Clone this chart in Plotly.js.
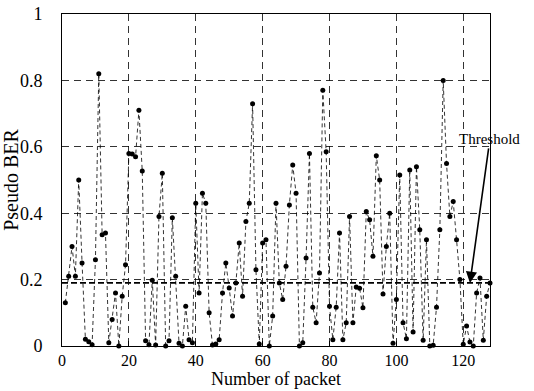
<!DOCTYPE html>
<html>
<head>
<meta charset="utf-8">
<script src="https://cdn.plot.ly/plotly-3.0.1.min.js"></script>
<style>html,body{margin:0;padding:0;background:#fff;}#chart{width:534px;height:391px;}</style>
</head>
<body>
<div id="chart"></div>
<script>
// Packet indices 1..128
const packets = [];
for (let i = 1; i <= 128; i++) packets.push(i);

// Pseudo BER per packet
const pseudoBER = [
  0.13, 0.21, 0.30, 0.21, 0.50, 0.25, 0.02, 0.013, 0.004, 0.26,
  0.82, 0.335, 0.34, 0.01, 0.08, 0.16, 0.0, 0.15, 0.245, 0.58,
  0.578, 0.57, 0.71, 0.527, 0.016, 0.004, 0.198, 0.003, 0.39, 0.52,
  0.0, 0.016, 0.386, 0.21, 0.008, 0.0, 0.12, 0.019, 0.01, 0.43,
  0.16, 0.46, 0.43, 0.10, 0.003, 0.006, 0.019, 0.16, 0.25, 0.175,
  0.09, 0.19, 0.31, 0.15, 0.375, 0.43, 0.73, 0.23, 0.006, 0.31,
  0.32, 0.0, 0.09, 0.43, 0.19, 0.14, 0.24, 0.425, 0.545, 0.46,
  0.0, 0.01, 0.265, 0.58, 0.117, 0.07, 0.22, 0.77, 0.585, 0.12,
  0.019, 0.117, 0.34, 0.019, 0.07, 0.39, 0.07, 0.178, 0.174, 0.115,
  0.405, 0.38, 0.27, 0.573, 0.50, 0.157, 0.30, 0.40, 0.008, 0.14,
  0.515, 0.07, 0.022, 0.53, 0.042, 0.54, 0.35, 0.017, 0.32, 0.0,
  0.002, 0.117, 0.35, 0.80, 0.55, 0.39, 0.435, 0.32, 0.20, 0.005,
  0.06, 0.012, 0.0, 0.16, 0.205, 0.017, 0.15, 0.19
];

const thresholdValue = 0.19;
const thresholdX = [0, 128];
const thresholdY = [thresholdValue, thresholdValue];

const xTicks = [0, 20, 40, 60, 80, 100, 120];
const yTicks = [0, 0.2, 0.4, 0.6, 0.8, 1];
const yTickLabels = ['0', '0.2', '0.4', '0.6', '0.8', '1'];

const serif = '"Liberation Serif", "Times New Roman", Times, serif';

const traces = [
  {
    x: packets, y: pseudoBER, type: 'scatter', mode: 'lines+markers',
    line: {color: '#000', width: 0.8, dash: '4px,3px'},
    marker: {color: '#000', size: 5},
    cliponaxis: false, showlegend: false, hoverinfo: 'skip'
  },
  {
    x: thresholdX, y: thresholdY, type: 'scatter', mode: 'lines',
    line: {color: '#000', width: 1.6, dash: '6px,3px'},
    showlegend: false, hoverinfo: 'skip'
  }
];

const axisCommon = {
  showline: true, mirror: true, linecolor: '#000', linewidth: 1,
  showgrid: true, gridcolor: '#000', gridwidth: 0.8, griddash: '7px,5px',
  zeroline: false,
  tickfont: {family: serif, size: 16, color: '#000'}
};

const layout = {
  width: 534, height: 391,
  margin: {l: 62, r: 44, t: 14, b: 45},
  paper_bgcolor: '#fff', plot_bgcolor: '#fff',
  xaxis: Object.assign({}, axisCommon, {
    range: [0, 128], tickvals: xTicks, ticktext: xTicks.map(String),
    ticks: 'inside', ticklen: 5, tickcolor: '#000', tickwidth: 1
  }),
  yaxis: Object.assign({}, axisCommon, {
    range: [0, 1], tickvals: yTicks, ticktext: yTickLabels,
    tickfont: {family: serif, size: 18, color: '#000'},
    ticks: 'outside', ticklen: 12, tickcolor: 'rgba(0,0,0,0)', tickwidth: 1,
    ticklabelstandoff: 3,
    title: {text: 'Pseudo BER', font: {family: serif, size: 20, color: '#000'}, standoff: 1}
  }),
  annotations: [
    {
      x: 0.5, y: 0, xref: 'paper', yref: 'paper', xanchor: 'center', yanchor: 'bottom',
      yshift: -45, showarrow: false, text: 'Number of packet',
      font: {family: serif, size: 18, color: '#000'}
    },
    {
      x: 122, y: thresholdValue, xref: 'x', yref: 'y',
      ax: 20, ay: -144,
      text: 'Threshold', showarrow: true,
      arrowhead: 2, arrowsize: 1.4, arrowwidth: 1.6, arrowcolor: '#000',
      font: {family: serif, size: 15, color: '#000'}
    }
  ]
};

Plotly.newPlot('chart', traces, layout, {staticPlot: true, displayModeBar: false});
</script>
</body>
</html>
